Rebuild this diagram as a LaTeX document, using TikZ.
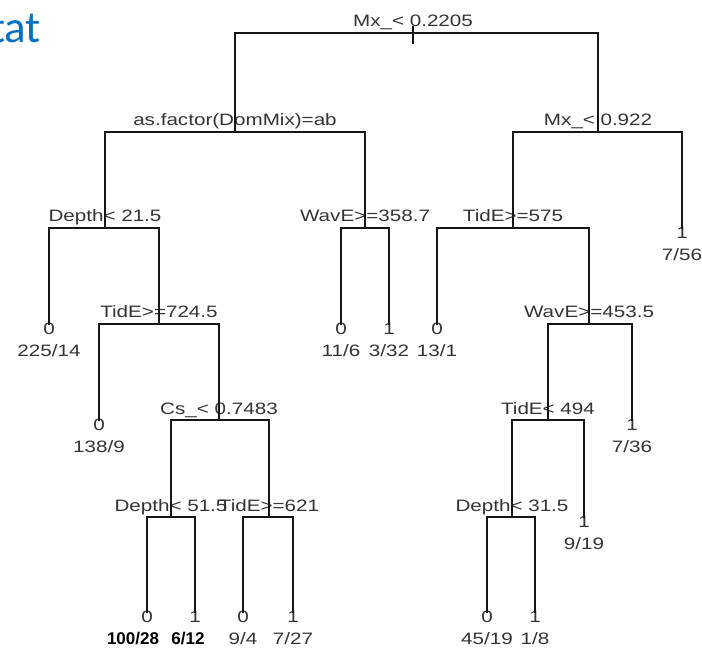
\documentclass[tikz,border=0pt]{standalone}
\usepackage{fontspec}
\usepackage{tikz}
\usetikzlibrary{calc}
\newfontfamily\treefont[FakeStretch=1.25]{Liberation Sans}
\newfontfamily\plainfont{Liberation Sans}
\newfontfamily\slidefont{Carlito}
\definecolor{ink}{HTML}{161616}
\definecolor{labgray}{HTML}{333333}
\definecolor{slideblue}{HTML}{0070C0}
\tikzset{
  branch/.style={draw=ink, line width=1.9pt, line cap=rect},
  splitlab/.style={font=\treefont\fontsize{16.5}{18}\selectfont, text=labgray,
    inner sep=0pt, anchor=base},
  leafclass/.style={font=\treefont\fontsize{16.5}{18}\selectfont, text=labgray,
    inner sep=0pt},
  leafcount/.style={font=\treefont\fontsize{16.5}{18}\selectfont, text=labgray,
    inner sep=0pt},
  boldcount/.style={font=\plainfont\bfseries\fontsize{17}{20}\selectfont, text=black,
    inner sep=0pt},
  slidetitle/.style={font=\slidefont\fontsize{45}{50}\selectfont, text=slideblue,
    inner sep=0pt, anchor=base west}
}
\begin{document}
\begin{tikzpicture}[x=1pt,y=-1pt]
\useasboundingbox (0,0) rectangle (702,652);
\clip (0,0) rectangle (702,652);
\node[slidetitle] (title) at (-10,43) {tat};

% split points of the tree
\foreach \name/\x/\y/\lab in {root/413/33/{Mx\_< 0.2205},
    dommix/235/132/{as.factor(DomMix)=ab}, mxb/598/132/{Mx\_< 0.922},
    deptha/105/228/{Depth< 21.5}, wava/365/228/{WavE>=358.7}, tida/513/228/{TidE>=575},
    tidb/159/324/{TidE>=724.5}, wavb/589/324/{WavE>=453.5},
    csb/219/420/{Cs\_< 0.7483}, tidc/548/420/{TidE< 494},
    depthb/171/517/{Depth< 51.5}, tidd/269/517/{TidE>=621}, depthc/512/517/{Depth< 31.5}}
{
  \coordinate (\name) at (\x,\y);
  \node[splitlab] (\name lab) at (\x,\y-6) {\lab};
}

% leaves: class and counts
\foreach \name/\x/\y/\cls/\cnt in {l1/682/228/1/{7/56}, l2/49/324/0/{225/14},
    l3/341/324/0/{11/6}, l4/389/324/1/{3/32}, l5/437/324/0/{13/1},
    l6/99/420/0/{138/9}, l7/632/420/1/{7/36}, l8/584/517/1/{9/19},
    l9/147/612/0/{}, l10/195/612/1/{}, l11/243/612/0/{9/4}, l12/293/612/1/{7/27},
    l13/487/612/0/{45/19}, l14/535/612/1/{1/8}}
{
  \coordinate (\name) at (\x,\y);
  \node[leafclass] (\name cls) at (\x,\y+5) {\cls};
  \node[leafcount] (\name cnt) at (\x,\y+27) {\cnt};
}
\node[boldcount] (l9bold) at (133,639) {100/28};
\node[boldcount] (l10bold) at (188,639) {6/12};

% branches
\coordinate (roottop) at (413,27);
\coordinate (rootstub) at (413,43);
\draw[branch] (roottop) -- (rootstub);
\draw[branch] (root) -| (dommix); \draw[branch] (root) -| (mxb);
\draw[branch] (dommix) -| (deptha); \draw[branch] (dommix) -| (wava);
\draw[branch] (mxb) -| (tida); \draw[branch] (mxb) -| (l1);
\draw[branch] (deptha) -| (l2); \draw[branch] (deptha) -| (tidb);
\draw[branch] (wava) -| (l3); \draw[branch] (wava) -| (l4);
\draw[branch] (tida) -| (l5); \draw[branch] (tida) -| (wavb);
\draw[branch] (tidb) -| (l6); \draw[branch] (tidb) -| (csb);
\draw[branch] (wavb) -| (tidc); \draw[branch] (wavb) -| (l7);
\draw[branch] (csb) -| (depthb); \draw[branch] (csb) -| (tidd);
\draw[branch] (tidc) -| (depthc); \draw[branch] (tidc) -| (l8);
\draw[branch] (depthb) -| (l9); \draw[branch] (depthb) -| (l10);
\draw[branch] (tidd) -| (l11); \draw[branch] (tidd) -| (l12);
\draw[branch] (depthc) -| (l13); \draw[branch] (depthc) -| (l14);
\end{tikzpicture}
\end{document}
